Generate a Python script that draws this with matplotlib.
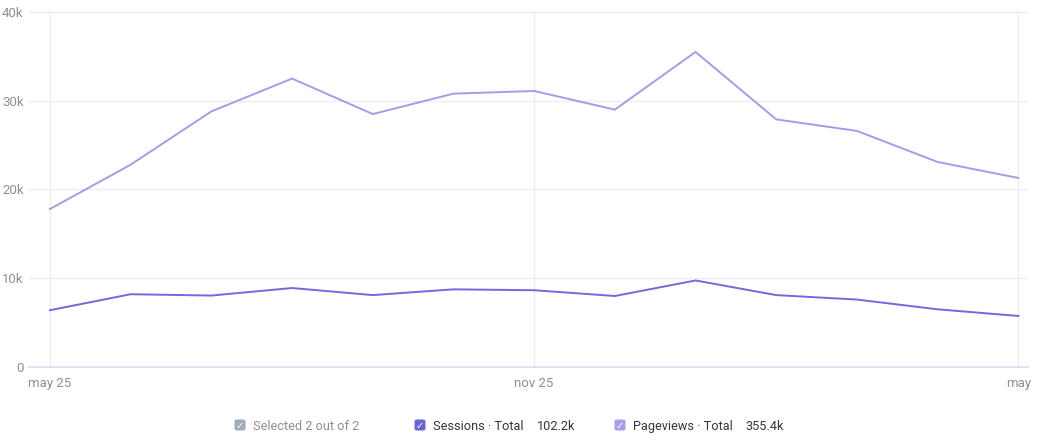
import matplotlib
matplotlib.use('Agg')
import matplotlib.pyplot as plt
from matplotlib.patches import FancyBboxPatch
from matplotlib.ticker import FuncFormatter
import numpy as np

plt.rcParams['font.family'] = ['Roboto', 'DejaVu Sans']

months = ['may 25', 'jun', 'jul', 'aug', 'sep', 'oct', 'nov 25', 'dec', 'jan', 'feb', 'mar', 'apr', 'may']
sessions = [6.4, 8.2, 8.05, 8.9, 8.1, 8.75, 8.65, 8.0, 9.75, 8.1, 7.6, 6.5, 5.75]
pageviews = [17.8, 22.8, 28.8, 32.5, 28.5, 30.8, 31.1, 29.0, 35.5, 27.9, 26.6, 23.1, 21.3]
tick_idx = [0, 6, 12]
tick_labels = ['may 25', 'nov 25', 'may']
legend_items = [('Selected 2 out of 2', '', '#a3aab8'),
                ('Sessions · Total', '102.2k', '#6e62d9'),
                ('Pageviews · Total', '355.4k', '#a99fe8')]

c_sess = '#7368dc'
c_page = '#a59ce6'
grid_c = '#ececf1'
label_c = '#8a8f9c'

fig = plt.figure(figsize=(10.49, 4.42), dpi=100)
ax = fig.add_axes([29 / 1049, 75 / 442, 999 / 1049, 355 / 442])

x = np.arange(len(months))
ax.plot(x, pageviews, color=c_page, lw=1.4, solid_joinstyle='miter')
ax.plot(x, sessions, color=c_sess, lw=1.4, solid_joinstyle='miter')

ax.set_xlim(-0.26, 12.12)
ax.set_ylim(0, 40)
ax.set_yticks([0, 10, 20, 30, 40])
ax.yaxis.set_major_formatter(FuncFormatter(lambda v, p: '0' if v == 0 else f'{int(v)}k'))
ax.set_xticks(tick_idx)
ax.set_xticklabels(tick_labels)

ax.grid(axis='y', color=grid_c, lw=0.9)
for i in tick_idx:
    ax.axvline(i, color=grid_c, lw=0.9, zorder=0)
ax.set_axisbelow(True)
for s in ['top', 'right', 'left']:
    ax.spines[s].set_visible(False)
ax.spines['bottom'].set_color('#dcdcef')
ax.spines['bottom'].set_linewidth(1.2)
ax.tick_params(axis='y', length=0, pad=4, labelsize=9.5, labelcolor=label_c)
ax.tick_params(axis='x', length=0, pad=7, labelsize=9.5, labelcolor=label_c)

# legend row
pos = [(240, 253, None), (420, 433, 537), (620, 633, 745)]
for (label, total, col), (bx, tx, vx) in zip(legend_items, pos):
    s = 11
    fx, fy = (bx - s / 2) / 1049, 1 - (425 + s / 2) / 442
    box = FancyBboxPatch((fx, fy), s / 1049, s / 442,
                         boxstyle='round,pad=0,rounding_size=0.003',
                         transform=fig.transFigure, facecolor=col, edgecolor='none')
    fig.patches.append(box)
    fig.text(bx / 1049, 1 - 425.5 / 442, '✓', color='white', fontsize=7,
             ha='center', va='center', family=['DejaVu Sans'], fontweight='bold')
    tcol = '#8a8f9c' if total == '' else '#333640'
    fig.text(tx / 1049, 1 - 426.5 / 442, label, color=tcol, fontsize=9.2, va='center')
    if vx:
        fig.text(vx / 1049, 1 - 426.5 / 442, total, color='#333640', fontsize=9.2, va='center')

plt.savefig('out.png', dpi=100)
